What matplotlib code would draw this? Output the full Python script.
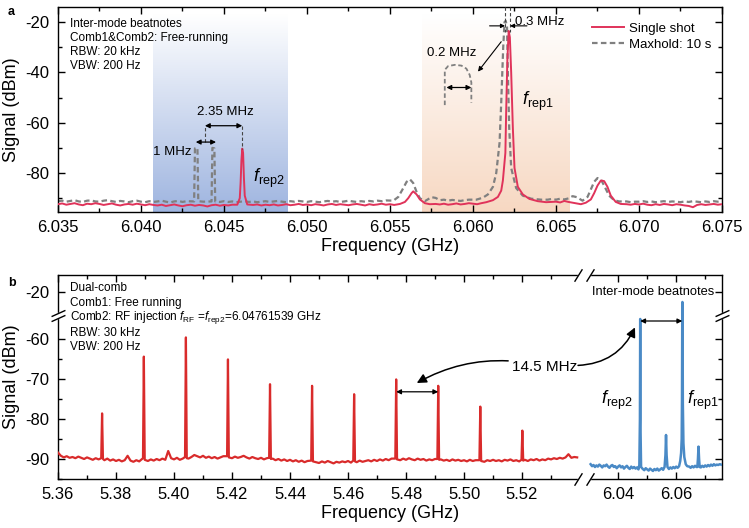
import numpy as np
import matplotlib
matplotlib.use('Agg')
import matplotlib.pyplot as plt
from matplotlib.colors import LinearSegmentedColormap
from matplotlib.ticker import MultipleLocator, FixedLocator, FormatStrFormatter

plt.rcParams['font.family'] = ['Liberation Sans', 'DejaVu Sans']
plt.rcParams['mathtext.fontset'] = 'custom'
plt.rcParams['mathtext.rm'] = 'Liberation Sans'
plt.rcParams['mathtext.it'] = 'Liberation Sans:italic'
plt.rcParams['axes.unicode_minus'] = False

# ---------------- panel a data (GHz, dBm) ----------------
# noise floor read every 0.25 MHz starting at 6.035 GHz
a_f0, a_step = 6.035, 0.00025
red_a_noise = [
    -92.4, -92.1, -92.6, -92.3, -92.0, -92.5, -92.8, -92.2, -92.4, -92.0,
    -92.3, -92.7, -92.4, -92.1, -92.6, -92.9, -92.5, -92.3, -92.6, -92.2,
    -92.5, -92.8, -92.4, -92.7, -92.9, -92.6, -93.1, -92.8, -92.5, -92.9,
    -93.2, -92.8, -92.6, -93.0, -92.7, -92.9, -93.3, -92.8, -92.6, -93.0,
    -92.7, -92.9, -92.6, -92.8, -92.6, -92.9, -93.1, -92.7, -92.5, -92.9,
    -92.6, -92.8, -92.5, -92.9, -92.7, -92.4, -92.8, -92.6, -92.3, -92.7,
    -92.5, -92.8, -92.4, -92.6, -92.9, -92.5, -92.3, -92.7, -92.4, -92.6,
    -92.8, -92.5, -92.3, -92.6, -92.9, -92.4, -92.7, -92.5, -92.2, -92.6,
    -92.4, -92.7, -92.3, -92.5, -92.8, -92.4, -92.6, -92.2, -92.5, -92.7,
    -91.9, -92.3, -92.5, -92.2, -92.6, -92.4, -92.1, -92.5, -92.3, -92.0,
    -92.2, -92.4, -92.0, -92.3, -91.9, -91.8, -91.6, -91.9, -91.7, -91.5,
    -91.8, -91.6, -91.9, -91.5, -91.7, -91.4, -91.8, -91.6, -91.3, -91.5,
    -91.4, -91.7, -91.1, -91.5, -91.8, -92.1, -92.4, -91.9, -92.2, -92.0,
    -92.3, -92.6, -92.4, -92.7, -92.3, -92.5, -92.8, -92.4, -92.6, -92.3,
    -92.5, -92.2, -92.6, -92.8, -92.4, -92.7, -92.3, -92.5, -92.8, -92.4,
    -92.6, -92.9, -93.1, -93.6, -92.7, -92.4, -92.7, -92.5, -92.3, -92.6,
    -92.4]
red_a_pk_f = [6.0458, 6.04595, 6.0460, 6.04605, 6.0461, 6.04615, 6.0462, 6.04625, 6.0464,
              6.0556, 6.0559, 6.0561, 6.0563, 6.0564, 6.0566, 6.0568, 6.0571, 6.0574,
              6.0608, 6.0612, 6.0615, 6.0617, 6.0618, 6.06195, 6.0620, 6.06207, 6.06215,
              6.06222, 6.0623, 6.0624, 6.0625, 6.0627, 6.0630, 6.0634, 6.0639, 6.0644,
              6.0668, 6.0671, 6.0673, 6.0675, 6.0677, 6.0679, 6.0681, 6.0683, 6.0686, 6.0689]
red_a_pk_v = [-92.6, -90.0, -84.0, -75.0, -70.3, -72.0, -82.0, -89.0, -92.5,
              -92.3, -91.5, -90.0, -88.0, -87.3, -88.5, -90.5, -92.0, -92.4,
              -91.6, -90.8, -89.5, -87.0, -83.0, -72.0, -55.0, -35.0, -23.5,
              -26.0, -40.0, -62.0, -78.0, -85.5, -88.5, -90.3, -91.2, -91.6,
              -91.8, -90.5, -88.0, -85.0, -83.0, -83.2, -85.5, -89.0, -91.5, -92.3]

gray_a_noise = [
    -91.2, -91.0, -91.4, -91.1, -90.8, -91.3, -91.5, -91.0, -90.9, -91.3,
    -91.4, -91.0, -90.8, -91.2, -91.5, -91.1, -91.3, -91.6, -91.2, -91.0,
    -91.4, -91.6, -91.2, -91.5, -91.3, -91.0, -91.4, -91.7, -91.3, -91.1,
    -91.5, -91.2, -91.6, -91.3, -91.1, -91.4, -91.6, -91.2, -91.4, -91.5,
    -91.2, -91.5, -91.3, -91.6, -91.4, -91.2, -91.5, -91.3, -91.6, -91.4,
    -91.2, -91.5, -91.3, -91.1, -91.4, -91.6, -91.2, -91.4, -91.1, -91.3,
    -91.5, -91.2, -91.4, -91.6, -91.3, -91.1, -91.4, -91.2, -91.5, -91.3,
    -91.0, -91.3, -91.5, -91.2, -91.4, -91.1, -91.3, -91.0, -91.2, -90.9,
    -91.1, -90.8, -90.6, -90.4, -90.5, -90.8, -91.0, -90.7, -90.9, -91.0,
    -89.6, -89.9, -90.8, -90.6, -91.0, -90.7, -90.9, -91.1, -90.8, -90.6,
    -90.5, -90.3, -90.4, -90.6, -90.5, -90.3, -90.4, -90.2, -90.5, -90.3,
    -90.4, -90.6, -90.3, -90.5, -90.2, -90.4, -90.4, -90.2, -90.6, -90.3,
    -90.6, -90.2, -90.5, -90.1, -89.2, -89.6, -90.8, -91.0, -90.6, -90.8,
    -91.0, -91.2, -91.0, -91.1, -90.8, -91.2, -91.5, -91.3, -91.6, -91.4,
    -91.4, -91.2, -91.5, -91.3, -91.6, -91.4, -91.2, -91.5, -91.3, -91.4,
    -91.6, -91.3, -91.5, -91.2, -91.4, -91.6, -91.3, -91.5, -91.2, -91.4,
    -91.3]
gray_a_pk_f = [6.0432, 6.04325, 6.0434, 6.04345,
               6.04425, 6.0443, 6.04442, 6.04447,
               6.0552, 6.0555, 6.0558, 6.0560, 6.0562, 6.0564, 6.0566, 6.0568, 6.0571,
               6.0602, 6.0606, 6.0609, 6.0612, 6.0614, 6.0616, 6.0617, 6.06182, 6.0619,
               6.06197, 6.06205, 6.0621, 6.06218, 6.0623, 6.0626, 6.0630, 6.0635, 6.0641,
               6.0666, 6.0669, 6.0671, 6.0673, 6.0675, 6.0677, 6.0679, 6.0682, 6.0685, 6.0688]
gray_a_pk_v = [-91.3, -70.2, -70.0, -91.2,
               -91.3, -70.0, -70.2, -91.3,
               -91.0, -89.5, -86.0, -83.5, -82.5, -84.0, -87.5, -90.0, -91.2,
               -90.6, -89.8, -88.5, -85.5, -80.0, -68.0, -52.0, -30.0, -20.0,
               -19.5, -22.0, -40.0, -62.0, -78.0, -86.0, -89.0, -90.2, -90.6,
               -91.0, -89.5, -86.5, -83.5, -82.0, -82.5, -85.0, -89.0, -90.8, -91.3]

# zoomed top of the maxhold peak (inset sketch)
inset_f = [6.0583, 6.0583, 6.0585, 6.0589, 6.0593, 6.0596, 6.0598, 6.0599, 6.0599]
inset_v = [-53.0, -39.0, -37.5, -37.0, -37.3, -38.5, -41.0, -44.0, -52.0]

a_notes = ['Inter-mode beatnotes', 'Comb1&Comb2: Free-running', 'RBW: 20 kHz', 'VBW: 200 Hz']

# ---------------- panel b data ----------------
b_f0, b_step = 5.360, 0.001
red_b_noise = [
    -88.4, -89.2, -89.6, -89.3, -89.7, -89.5, -89.8, -89.4, -89.7, -90.0,
    -89.6, -89.9, -90.2, -89.8, -90.1, -90.0, -90.3, -89.9, -90.4, -90.1,
    -90.5, -90.2, -90.6, -90.3, -89.2, -90.4, -90.7, -90.3, -90.6, -90.4,
    -90.2, -90.5, -90.1, -90.4, -90.0, -90.3, -89.9, -90.2, -88.0, -89.8,
    -90.1, -89.7, -90.2, -89.9, -89.6, -89.9, -89.5, -89.0, -89.3, -89.6,
    -89.2, -89.7, -89.4, -89.8, -89.5, -89.9, -89.6, -89.3, -89.7, -89.5,
    -89.8, -89.4, -89.7, -89.5, -89.2, -89.6, -89.9, -89.5, -89.8, -90.0,
    -89.7, -90.1, -89.8, -90.2, -89.9, -90.3, -90.0, -90.4, -90.1, -90.5,
    -90.2, -90.6, -90.3, -90.7, -90.4, -90.8, -90.5, -90.9, -90.6, -90.8,
    -91.0, -90.6, -90.9, -90.5, -90.8, -91.1, -90.7, -90.9, -90.6, -90.8,
    -90.5, -90.9, -90.6, -90.8, -90.4, -90.7, -90.5, -90.3, -90.6, -90.2,
    -90.5, -90.1, -90.4, -90.0, -90.3, -89.9, -90.2, -90.0, -90.3, -89.9,
    -90.2, -89.8, -90.1, -90.3, -89.9, -90.2, -90.0, -90.4, -90.1, -90.3,
    -90.0, -90.3, -90.1, -90.4, -90.2, -90.5, -90.1, -90.4, -90.2, -90.5,
    -90.3, -90.6, -90.2, -90.5, -90.3, -90.6, -90.4, -90.7, -90.3, -90.5,
    -90.2, -90.5, -90.3, -90.6, -90.2, -90.4, -90.1, -90.5, -90.3, -90.6,
    -90.4, -90.2, -90.5, -90.1, -90.3, -90.0, -90.4, -90.1, -90.3, -89.9,
    -90.1, -89.8, -90.0, -89.7, -89.9, -89.6, -88.8, -89.7, -89.5, -89.6]
red_b_pk_f = [5.3749, 5.3752, 5.3755, 5.3893, 5.3896, 5.3899, 5.4038, 5.4041, 5.4044,
              5.4183, 5.4186, 5.4189, 5.4328, 5.4331, 5.4334, 5.4473, 5.4476, 5.4479,
              5.4618, 5.4621, 5.4624, 5.4763, 5.4766, 5.4769, 5.4908, 5.4911, 5.4914,
              5.5053, 5.5056, 5.5059, 5.5198, 5.5201, 5.5204]
red_b_pk_v = [-89.8, -78.6, -90.0, -89.8, -64.4, -90.2, -89.5, -59.6, -89.8,
              -89.3, -65.1, -89.6, -89.7, -71.3, -90.0, -90.4, -71.7, -90.6,
              -90.4, -73.8, -90.6, -89.9, -70.1, -90.1, -90.0, -71.7, -90.2,
              -90.3, -76.9, -90.5, -90.2, -82.9, -90.4]

blue_f0, blue_step = 6.0305, 0.0005
blue_b_noise = [
    -91.3, -91.8, -91.5, -92.0, -91.6, -91.9, -91.4, -91.7, -92.1, -91.6,
    -91.8, -91.4, -91.9, -92.2, -91.7, -91.5, -92.0, -91.8, -92.3, -91.9,
    -91.6, -92.1, -91.8, -92.4, -92.0, -91.7, -92.2, -92.5, -91.9, -92.3,
    -92.0, -92.4, -92.1, -92.6, -92.6, -92.2, -92.5, -92.8, -92.3, -92.6,
    -92.9, -92.4, -92.7, -93.0, -92.5, -92.8, -92.4, -92.9, -92.6, -92.3,
    -92.7, -92.4, -92.6, -92.2, -92.5, -92.1, -92.4, -92.0, -92.3, -91.9,
    -92.2, -91.8, -91.6, -91.9, -91.7, -92.0, -91.8, -92.1, -91.9, -92.2,
    -91.8, -92.1, -91.7, -92.0, -92.3, -91.8, -92.1, -91.7, -92.0, -91.6,
    -91.9, -91.5, -91.8, -91.4, -91.7, -91.3, -91.6, -91.4, -91.5, -91.3,
    -91.4]
blue_b_pk_f = [6.0473, 6.0475, 6.0476, 6.0477, 6.0479,
               6.0560, 6.0563, 6.0565, 6.0567, 6.0570,
               6.0610, 6.0614, 6.0617, 6.0619, 6.0620, 6.0621, 6.06215, 6.0622, 6.0623,
               6.0625, 6.0628, 6.0633, 6.0638,
               6.0673, 6.0675, 6.0677, 6.0679, 6.0681]
blue_b_pk_v = [-91.5, -80.0, -55.0, -82.0, -92.0,
               -92.0, -89.0, -84.0, -89.0, -92.0,
               -91.8, -90.5, -88.5, -85.0, -75.0, -50.0, -22.5, -40.0, -76.0,
               -86.0, -89.5, -91.3, -91.8,
               -92.0, -90.0, -86.9, -90.0, -92.0]

b_notes = ['Dual-comb', 'Comb1: Free running',
           r'Comb2: RF injection $f_{\mathrm{RF}}$ =$f_{\mathrm{rep2}}$=6.04761539 GHz',
           'RBW: 30 kHz', 'VBW: 200 Hz']
b_xticks = [5.36, 5.38, 5.40, 5.42, 5.44, 5.46, 5.48, 5.50, 5.52, 6.04, 6.06]
b_xminor = [5.37, 5.39, 5.41, 5.43, 5.45, 5.47, 5.49, 5.51, 5.53, 6.05, 6.07]
b_yticks = [-90, -80, -70, -60, -20]
b_yminor = [-95, -85, -75, -65]


def build(f0, step, noise, pk_f, pk_v, d):
    gf = f0 + step * np.arange(len(noise))
    gv = np.array(noise)
    pf = np.array(pk_f)
    near = np.min(np.abs(gf[:, None] - pf[None, :]), axis=1) < d
    f = np.concatenate([gf[~near], pf])
    v = np.concatenate([gv[~near], np.array(pk_v)])
    o = np.argsort(f)
    return f[o], v[o]


# broken axes for panel b
XA, XB, XG = 5.5393, 6.0303, 0.00414
YA, YB, YG = -54.75, -25.25, 1.25


def brk_fwd(a, b, g):
    def f(x):
        x = np.asarray(x, float)
        return np.where(x <= a, x, np.where(x >= b, x - (b - a) + g, a + (x - a) / (b - a) * g))
    return f


def brk_inv(a, b, g):
    def f(u):
        u = np.asarray(u, float)
        return np.where(u <= a, u, np.where(u >= a + g, u + (b - a) - g, a + (u - a) / g * (b - a)))
    return f


def darrow(ax, x0, x1, y, ms=7, lw=0.9):
    ax.annotate('', xy=(x1, y), xytext=(x0, y), zorder=5,
                arrowprops=dict(arrowstyle='<|-|>', color='k', lw=lw, mutation_scale=ms,
                                shrinkA=0, shrinkB=0))


def style(ax):
    ax.tick_params(which='both', direction='in', top=True, right=True, labelsize=12, pad=6, width=1)
    ax.tick_params(which='major', length=5)
    ax.tick_params(which='minor', length=3)
    for s in ax.spines.values():
        s.set_linewidth(1.0)
    ax.set_xlabel('Frequency (GHz)', fontsize=13, labelpad=2)
    ax.set_ylabel('Signal (dBm)', fontsize=13, labelpad=4)


fig = plt.figure(figsize=(7.49, 5.28), dpi=100)
ax1 = fig.add_axes([58 / 749, 1 - 212 / 528, 664 / 749, 205 / 528])
ax2 = fig.add_axes([58 / 749, 1 - 479 / 528, 664 / 749, 204 / 528])

# ---------------- panel a ----------------
grad = np.linspace(0, 1, 256).reshape(-1, 1)
blue_cm = LinearSegmentedColormap.from_list('bl', ['#ffffff', '#9fb5e0'])
orng_cm = LinearSegmentedColormap.from_list('or', ['#ffffff', '#f7d8c2'])
ax1.imshow(grad, extent=(6.0407, 6.0488, -95.5, -17), cmap=blue_cm, aspect='auto', zorder=0)
ax1.imshow(grad, extent=(6.0569, 6.0658, -95.5, -17), cmap=orng_cm, aspect='auto', zorder=0)

rf, rv = build(a_f0, a_step, red_a_noise, red_a_pk_f, red_a_pk_v, 0.00028)
gf, gv = build(a_f0, a_step, gray_a_noise, gray_a_pk_f, gray_a_pk_v, 0.00028)
ax1.plot(rf, rv, color='#e0335a', lw=1.4, label='Single shot', zorder=3)
ax1.plot(gf, gv, color='#808080', lw=1.6, ls=(0, (2.5, 1.5)), label='Maxhold: 10 s', zorder=2.5)

ax1.set_xlim(6.035, 6.075)
ax1.set_ylim(-95.5, -14)
ax1.xaxis.set_major_locator(MultipleLocator(0.005))
ax1.xaxis.set_minor_locator(MultipleLocator(0.0025))
ax1.xaxis.set_major_formatter(FormatStrFormatter('%.3f'))
ax1.yaxis.set_major_locator(MultipleLocator(20))
ax1.yaxis.set_minor_locator(MultipleLocator(10))
style(ax1)

dash = dict(ls=(0, (3, 2)), color='#444444', lw=0.8, zorder=4)
ax1.plot([6.04385, 6.04385], [-67.7, -61.2], **dash)
ax1.plot([6.0461, 6.0461], [-61.2, -70.5], **dash)
darrow(ax1, 6.04385, 6.0461, -61.2)
darrow(ax1, 6.0433, 6.04452, -67.7)
ax1.text(6.0451, -55.6, '2.35 MHz', ha='center', va='center', fontsize=9.5)
ax1.text(6.0419, -71.7, '1 MHz', ha='center', va='center', fontsize=9.5)

ax1.plot([6.06193, 6.06193], [-14, -24], **dash)
ax1.plot([6.06223, 6.06223], [-14, -24], **dash)
for x0, x1 in ((6.0610, 6.06193), (6.06325, 6.06223)):
    ax1.annotate('', xy=(x1, -21.5), xytext=(x0, -21.5), zorder=5,
                 arrowprops=dict(arrowstyle='-|>', color='k', lw=0.8, mutation_scale=6,
                                 shrinkA=0, shrinkB=0))
ax1.text(6.06255, -20, '0.3 MHz', ha='left', va='center', fontsize=9.5)

ax1.text(6.0587, -32.3, '0.2 MHz', ha='center', va='center', fontsize=9.5)
ax1.annotate('', xy=(6.0603, -39.7), xytext=(6.0617, -27.8), zorder=5,
             arrowprops=dict(arrowstyle='-|>', color='k', lw=0.8, mutation_scale=7,
                             shrinkA=0, shrinkB=0))
ax1.plot(inset_f, inset_v, color='#808080', lw=1.3, ls=(0, (2.5, 1.5)))
darrow(ax1, 6.0584, 6.0599, -46)

ax1.text(6.0477, -82, r'$f_{\mathrm{rep2}}$', fontsize=13, ha='center', va='center')
ax1.text(6.0639, -51.7, r'$f_{\mathrm{rep1}}$', fontsize=13, ha='center', va='center')

for s, y in zip(a_notes, [0.917, 0.850, 0.779, 0.714]):
    ax1.text(0.018, y, s, transform=ax1.transAxes, fontsize=8.5, va='center')

ax1.legend(loc='upper right', bbox_to_anchor=(1.0, 0.975), frameon=False, fontsize=9.5,
           handlelength=2.4, handletextpad=0.4, labelspacing=0.3, borderaxespad=0.4)

# ---------------- panel b ----------------
ax2.set_xscale('function', functions=(brk_fwd(XA, XB, XG), brk_inv(XA, XB, XG)))
ax2.set_yscale('function', functions=(brk_fwd(YA, YB, YG), brk_inv(YA, YB, YG)))

bf, bv = build(b_f0, b_step, red_b_noise, red_b_pk_f, red_b_pk_v, 0.0005)
cf, cv = build(blue_f0, blue_step, blue_b_noise, blue_b_pk_f, blue_b_pk_v, 0.0003)
ax2.plot(bf, bv, color='#d92b2b', lw=1.6, zorder=3)
ax2.plot(cf, cv, color='#4a8ac6', lw=1.8, zorder=3)

ax2.set_xlim(5.36, 6.0758)
ax2.set_ylim(-95, -15.75)
ax2.xaxis.set_major_locator(FixedLocator(b_xticks))
ax2.xaxis.set_minor_locator(FixedLocator(b_xminor))
ax2.xaxis.set_major_formatter(FormatStrFormatter('%.2f'))
ax2.yaxis.set_major_locator(FixedLocator(b_yticks))
ax2.yaxis.set_minor_locator(FixedLocator(b_yminor))
ax2.yaxis.set_major_formatter(FormatStrFormatter('%d'))
style(ax2)

# break gaps and marks
ax2.axvspan(XA, XB, ymin=-0.03, ymax=1.03, color='white', zorder=2.6, clip_on=False)
ax2.axhspan(YA, YB, xmin=-0.03, xmax=1.03, color='white', zorder=2.6, clip_on=False)
tx = ax2.get_xaxis_transform()
ty = ax2.get_yaxis_transform()
for x in (XA, XB):
    ax2.plot([x, x], [0, 1], transform=tx, ls='none', marker=[(-1, -1.6), (1, 1.6)], ms=9,
             mec='k', mew=1, clip_on=False, zorder=4)
for y in (YA, YB):
    ax2.plot([0, 1], [y, y], transform=ty, ls='none', marker=[(-1, -0.45), (1, 0.45)], ms=10,
             mec='k', mew=1, clip_on=False, zorder=4)

darrow(ax2, 5.4766, 5.4911, -73.2)
darrow(ax2, 6.0476, 6.0621, -55.5)
ax2.annotate('14.5 MHz', xy=(5.4837, -71), xytext=(5.5279, -66.9), ha='center', va='center',
             fontsize=11, zorder=5,
             arrowprops=dict(arrowstyle='-|>', color='k', lw=1.1, mutation_scale=14,
                             connectionstyle='arc3,rad=0.2', shrinkA=1, shrinkB=0))
ax2.annotate('', xy=(6.0458, -57.1), xytext=(5.5396, -66.6), zorder=5,
             arrowprops=dict(arrowstyle='-|>', color='k', lw=1.1, mutation_scale=14,
                             connectionstyle='arc3,rad=0.3', shrinkA=0, shrinkB=0))

ax2.text(6.0731, -20, 'Inter-mode beatnotes', ha='right', va='center', fontsize=9.3, zorder=5)
ax2.text(6.0395, -75.25, r'$f_{\mathrm{rep2}}$', fontsize=13, ha='center', va='center')
ax2.text(6.0693, -75.25, r'$f_{\mathrm{rep1}}$', fontsize=13, ha='center', va='center')

for s, y in zip(b_notes, [0.936, 0.863, 0.792, 0.716, 0.647]):
    ax2.text(0.018, y, s, transform=ax2.transAxes, fontsize=8.5, va='center', zorder=5)

fig.text(8 / 749, 1 - 12 / 528, 'a', fontweight='bold', fontsize=9, va='center')
fig.text(8 / 749, 1 - 283 / 528, 'b', fontweight='bold', fontsize=9, va='center')

fig.savefig('out.png', dpi=100)
